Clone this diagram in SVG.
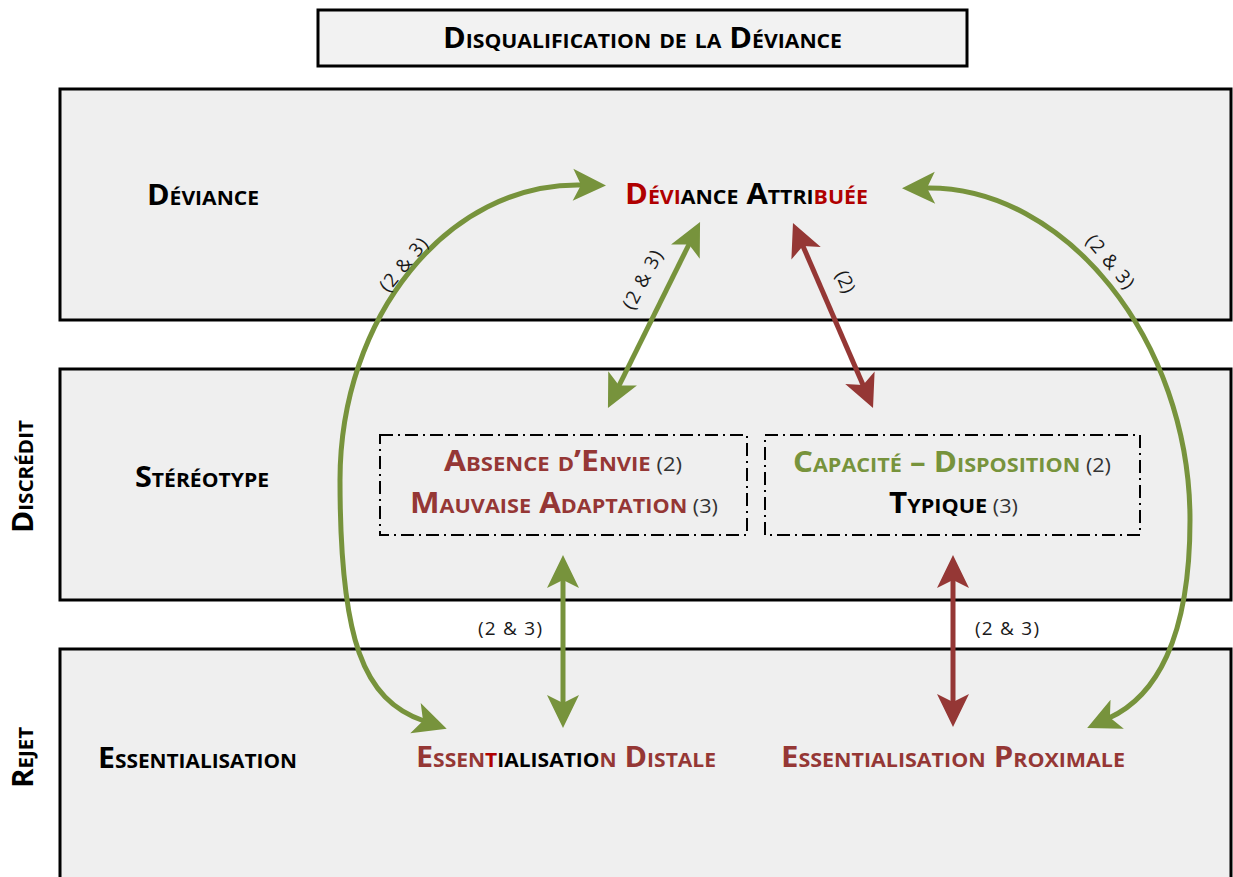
<svg xmlns="http://www.w3.org/2000/svg" width="1233" height="877" viewBox="0 0 1233 877">
<style>
.band{fill:#efefef;stroke:#000;stroke-width:3}
.title{fill:#f2f2f2;stroke:#000;stroke-width:3}
.dd{fill:none;stroke:#000;stroke-width:2;stroke-dasharray:13 5 2 5}
.t{font-family:"Open Sans","Liberation Sans",sans-serif;font-weight:bold;font-variant:small-caps;font-size:29px}
.n{font-family:"Open Sans","Liberation Sans",sans-serif;font-weight:normal;font-variant:normal;fill:#333}
.lbl{font-family:"Open Sans","Liberation Sans",sans-serif;font-size:19px;fill:#1a1a1a;text-anchor:middle}
.dr{fill:#953735}.br{fill:#B00000}.gr{fill:#77933C}.bk{fill:#000}
.ag{fill:none;stroke:#77933C;stroke-width:5}
.ar{fill:none;stroke:#953735;stroke-width:5}
</style>
<defs>
<marker id="mg" viewBox="-34 -17 35 34" markerWidth="35" markerHeight="34" refX="-24" refY="0" markerUnits="userSpaceOnUse" orient="auto-start-reverse">
<path d="M0,0 L-33,-16 L-25,0 L-33,16 Z" fill="#77933C"/>
</marker>
<marker id="mr" viewBox="-34 -17 35 34" markerWidth="35" markerHeight="34" refX="-24" refY="0" markerUnits="userSpaceOnUse" orient="auto-start-reverse">
<path d="M0,0 L-33,-16 L-25,0 L-33,16 Z" fill="#953735"/>
</marker>
</defs>
<rect width="1233" height="877" fill="#fff"/>
<g id="band-deviance"><rect class="band" x="60" y="89" width="1171" height="231"/>
<text class="t bk" x="147" y="205" textLength="112" lengthAdjust="spacingAndGlyphs">Déviance</text></g>
<g id="band-stereotype"><rect class="band" x="60" y="369" width="1171" height="231"/>
<text class="t bk" x="135" y="487" textLength="134" lengthAdjust="spacingAndGlyphs">Stéréotype</text></g>
<g id="band-essentialisation"><rect class="band" x="60" y="649" width="1171" height="260"/>
<text class="t bk" x="98" y="768" textLength="199" lengthAdjust="spacingAndGlyphs">Essentialisation</text></g>
<g id="title"><rect class="title" x="318" y="10" width="649" height="56"/>
<text class="t bk" x="443" y="48" font-size="30" textLength="399" lengthAdjust="spacingAndGlyphs">Disqualification de la Déviance</text></g>
<g id="side-discredit"><text class="t bk" transform="translate(33,533) rotate(-90)" x="0" y="0" textLength="113" lengthAdjust="spacingAndGlyphs">Discrédit</text></g>
<g id="side-rejet"><text class="t bk" transform="translate(33,788) rotate(-90)" x="0" y="0" textLength="61" lengthAdjust="spacingAndGlyphs">Rejet</text></g>
<g id="deviance-attribuee"><text class="t" x="625" y="204" textLength="243" lengthAdjust="spacingAndGlyphs"><tspan class="br">Dévi</tspan><tspan class="bk">ance Attri</tspan><tspan class="br">buée</tspan></text></g>
<g id="box-absence"><rect class="dd" x="380" y="435" width="367" height="100"/>
<text class="t dr" x="444" y="471" textLength="238" lengthAdjust="spacingAndGlyphs">Absence d’Envie<tspan class="n" font-size="20"> (2)</tspan></text>
<text class="t dr" x="410" y="513" textLength="308" lengthAdjust="spacingAndGlyphs">Mauvaise Adaptation<tspan class="n" font-size="20"> (3)</tspan></text></g>
<g id="box-capacite"><rect class="dd" x="765" y="435" width="375" height="100"/>
<text class="t gr" x="793" y="472" textLength="318" lengthAdjust="spacingAndGlyphs">Capacité – Disposition<tspan class="n" font-size="20"> (2)</tspan></text>
<text class="t bk" x="889" y="513" textLength="129" lengthAdjust="spacingAndGlyphs">Typique<tspan class="n" font-size="20"> (3)</tspan></text></g>
<g id="ess-distale"><text class="t" x="416" y="767" textLength="300" lengthAdjust="spacingAndGlyphs"><tspan class="dr">Essen</tspan><tspan class="br">t</tspan><tspan class="bk">ialisatio</tspan><tspan class="dr">n Distale</tspan></text></g>
<g id="ess-proximale"><text class="t dr" x="781" y="767" textLength="344" lengthAdjust="spacingAndGlyphs">Essentialisation Proximale</text></g>
<g id="connectors">
<path class="ag" d="M582 185 C447 182 340 318 340 480 C340 640 363 700 424 721" marker-start="url(#mg)" marker-end="url(#mg)"/>
<path class="ag" d="M926 188 C1065 186 1190 340 1190 520 C1190 640 1155 697 1109 718" marker-start="url(#mg)" marker-end="url(#mg)"/>
<path class="ag" d="M618.6 386.5 L689.4 243.5" marker-start="url(#mg)" marker-end="url(#mg)"/>
<path class="ar" d="M802.5 245 L863.5 386" marker-start="url(#mr)" marker-end="url(#mr)"/>
<path class="ag" d="M563 579 L563 704" marker-start="url(#mg)" marker-end="url(#mg)"/>
<path class="ar" d="M953 579 L953 703" marker-start="url(#mr)" marker-end="url(#mr)"/>
<text class="lbl" transform="translate(404,265) rotate(-50)" y="6" textLength="64">(2 &amp; 3)</text>
<text class="lbl" transform="translate(643,280) rotate(-62)" y="6" textLength="64">(2 &amp; 3)</text>
<text class="lbl" transform="translate(845,282) rotate(66)" y="6">(2)</text>
<text class="lbl" transform="translate(1110,262) rotate(50)" y="6" textLength="64">(2 &amp; 3)</text>
<text class="lbl" x="510" y="635" textLength="64">(2 &amp; 3)</text>
<text class="lbl" x="1007" y="635" textLength="64">(2 &amp; 3)</text>
</g>
</svg>
